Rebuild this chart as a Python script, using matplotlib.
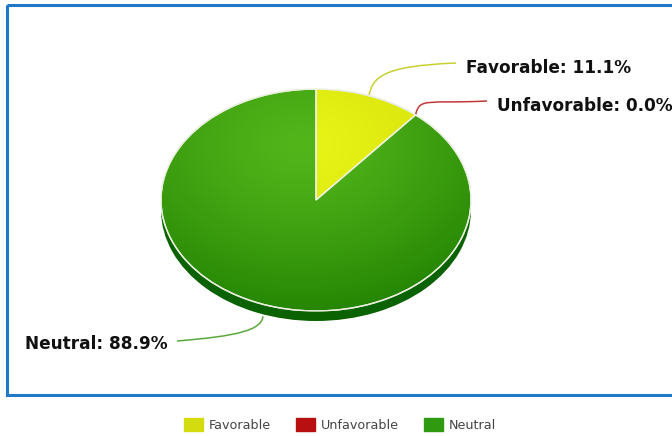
import numpy as np
import matplotlib
matplotlib.use("Agg")
import matplotlib.pyplot as plt
import matplotlib.patches as mpatches
from matplotlib.path import Path
from matplotlib.colors import LinearSegmentedColormap

# ── Data ─────────────────────────────────────────────────────────────────────
categories = ["Favorable", "Unfavorable", "Neutral"]
shares = [11.1, 0.0, 88.9]

# ── Styling ──────────────────────────────────────────────────────────────────
W, H = 672, 436
FACE_INNER = ["#e8f416", "#d81c1c", "#52b51a"]
FACE_OUTER = ["#c6d200", "#a00000", "#1e7e00"]
LEADER = ["#c8d030", "#c03838", "#5aa83c"]
SIDE = "#0b6200"
BORDER = "#1f78c8"

# pie geometry in pixels (top face ellipse)
CX, CY, RX, RY, DEPTH = 316, 200, 155, 111, 10

fig = plt.figure(figsize=(W / 100, H / 100), dpi=100)
bg = fig.add_axes([0, 0, 1, 1])
bg.set_xlim(0, W)
bg.set_ylim(H, 0)
bg.axis("off")

bg.add_patch(mpatches.Rectangle((7, 5), W + 10, 390, fill=False,
                                edgecolor=BORDER, linewidth=2.2, zorder=1))


def pie_axes(dy):
    ax = fig.add_axes([(CX - RX) / W, (H - (CY + dy) - RY) / H,
                       2 * RX / W, 2 * RY / H])
    ax.axis("off")
    return ax


def fix_limits(ax):
    ax.set_xlim(-1, 1)
    ax.set_ylim(-1, 1)
    ax.set_aspect("auto")


# side (depth) of the pie
side_ax = pie_axes(DEPTH)
side_ax.pie([1], colors=[SIDE], radius=1, wedgeprops=dict(linewidth=0))
fix_limits(side_ax)

# top face
top_ax = pie_axes(0)
wedges, _ = top_ax.pie(shares, colors=FACE_OUTER, startangle=90,
                       counterclock=False, radius=1,
                       wedgeprops=dict(edgecolor="#f0f0e0", linewidth=1.0))
fix_limits(top_ax)

# radial gradient on each wedge (soft highlight near the top centre)
yy, xx = np.mgrid[-1:1:300j, -1:1:300j]
dist = np.sqrt((xx + 0.1) ** 2 + (yy - 0.5) ** 2)
dist = np.clip(dist / 1.7, 0, 1) ** 1.3
for w, c0, c1 in zip(wedges, FACE_INNER, FACE_OUTER):
    if w.theta1 == w.theta2:
        continue
    cmap = LinearSegmentedColormap.from_list("g", [c0, c1])
    im = top_ax.imshow(dist, cmap=cmap, extent=(-1, 1, -1, 1),
                       origin="lower", aspect="auto", zorder=1.5)
    im.set_clip_path(w)
    w.set_facecolor("none")
    w.set_zorder(2)
top_ax.add_patch(mpatches.Ellipse((0, 0), 2, 2, fill=False,
                                  edgecolor="#e8efe0", linewidth=1.0, zorder=3))
fix_limits(top_ax)

# ── Labels with curved leader lines ──────────────────────────────────────────
total = sum(shares)
start = 90.0
text_pos = [(466, 68), (497, 106), (25, 344)]
for i, (cat, val) in enumerate(zip(categories, shares)):
    span = val / total * 360
    mid = np.deg2rad(start - span / 2)
    start -= span
    x0 = CX + RX * np.cos(mid)
    y0 = CY - RY * np.sin(mid)
    tx, ty = text_pos[i]
    if np.sin(mid) < 0:
        y0 += DEPTH + 2
    if tx > CX:
        p1 = (x0 + 4, y0 - 18)
        p2 = (x0 + 12, ty - 2)
        p3 = (tx - 10, ty - 5)
    else:
        p1 = (x0 - 2, y0 + 14)
        p2 = (x0 - 25, ty - 8)
        p3 = (tx + 152, ty - 3)
    path = Path([(x0, y0), p1, p2, p3], [Path.MOVETO, Path.CURVE4, Path.CURVE4, Path.CURVE4])
    bg.add_patch(mpatches.PathPatch(path, fill=False, edgecolor=LEADER[i],
                                    linewidth=1.1, zorder=4))
    bg.text(tx, ty, f"{cat}: {val:.1f}%", ha="left", va="center",
            fontsize=12.2, fontweight="bold", color="#111111", zorder=5)

# ── Legend ───────────────────────────────────────────────────────────────────
handles = [mpatches.Patch(facecolor=c, edgecolor=c, label=lab)
           for c, lab in zip(["#d4dc10", "#b81010", "#2f9a10"], categories)]
fig.legend(handles=handles, loc="center", bbox_to_anchor=(0.506, 11 / H),
           ncol=3, frameon=False, fontsize=9.2, handlelength=1.5,
           handleheight=1.2, handletextpad=0.45, columnspacing=1.95,
           labelcolor="#444444")

fig.savefig("out.png", dpi=100)
